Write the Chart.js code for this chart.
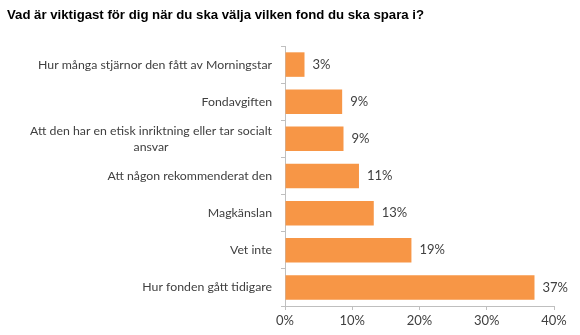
<!DOCTYPE html>
<html>
<head>
<meta charset="utf-8">
<script src="https://cdn.jsdelivr.net/npm/chart.js@4/dist/chart.umd.min.js"></script>
<style>
    html, body { margin: 0; padding: 0; background: #fff; }
    #wrap { position: relative; width: 580px; height: 335px; }
    #title {
        position: absolute; left: 7px; top: 7px;
        font: bold 13.2px "Liberation Sans", Arial, sans-serif;
        color: #000;
    }
    canvas { position: absolute; left: 0; top: 0; }
</style>
</head>
<body>
<div id="wrap">
    <canvas id="chart" width="580" height="335"></canvas>
    <div id="title">Vad är viktigast för dig när du ska välja vilken fond du ska spara i?</div>
</div>
<script>
// Chart data
const categories = [
    'Hur många stjärnor den fått av Morningstar',
    'Fondavgiften',
    ['Att den har en etisk inriktning eller tar socialt', 'ansvar'],
    'Att någon rekommenderat den',
    'Magkänslan',
    'Vet inte',
    'Hur fonden gått tidigare'
];
const values = [2.9, 8.5, 8.7, 11.0, 13.2, 18.8, 37.1];
const valueLabels = ['3%', '9%', '9%', '11%', '13%', '19%', '37%'];
const xTicks = [0, 10, 20, 30, 40];

const fontFamily = 'Lato, "Open Sans", sans-serif';
const textColor = '#404040';

// Draw category labels (centered multi-line block, right edge near axis) and value labels
const labelPlugin = {
    id: 'labelPlugin',
    afterDraw(chart) {
        const ctx = chart.ctx;
        const yScale = chart.scales.y;
        const meta = chart.getDatasetMeta(0);
        ctx.save();
        ctx.font = '12.3px ' + fontFamily;
        ctx.fillStyle = textColor;
        ctx.textBaseline = 'middle';
        ctx.textAlign = 'center';

        categories.forEach((cat, i) => {
            const lines = Array.isArray(cat) ? cat : [cat];
            const y = yScale.getPixelForValue(i);
            const maxW = Math.max(...lines.map(l => ctx.measureText(l).width));
            const center = yScale.right - 13 - maxW / 2;
            const lh = 16;
            lines.forEach((l, j) => {
                ctx.fillText(l, center, y + (j - (lines.length - 1) / 2) * lh);
            });
        });

        ctx.font = '13px ' + fontFamily;
        ctx.textAlign = 'left';
        meta.data.forEach((bar, i) => {
            ctx.fillText(valueLabels[i], bar.x + 8, bar.y);
        });
        ctx.restore();
    }
};

new Chart(document.getElementById('chart'), {
    type: 'bar',
    data: {
        labels: categories,
        datasets: [{
            data: values,
            backgroundColor: '#F79646',
            borderWidth: 0,
            categoryPercentage: 1,
            barPercentage: 0.66
        }]
    },
    options: {
        indexAxis: 'y',
        responsive: false,
        animation: false,
        layout: {
            padding: { top: 46, right: 26, left: 0, bottom: 0 }
        },
        plugins: {
            legend: { display: false },
            title: { display: false },
            tooltip: { enabled: false }
        },
        scales: {
            y: {
                ticks: { display: false },
                grid: {
                    offset: true,
                    drawOnChartArea: false,
                    drawTicks: true,
                    tickLength: 4,
                    color: '#bfbfbf'
                },
                border: { color: '#bfbfbf' },
                afterFit: function(scale) {
                    scale.width = 285;
                }
            },
            x: {
                min: 0,
                max: 40,
                afterBuildTicks: function(scale) {
                    scale.ticks = xTicks.map(v => ({ value: v }));
                },
                ticks: {
                    color: textColor,
                    font: { family: fontFamily, size: 13 },
                    padding: 3,
                    callback: function(v) { return v + '%'; }
                },
                grid: {
                    drawOnChartArea: false,
                    drawTicks: true,
                    tickLength: 4,
                    color: '#bfbfbf'
                },
                border: { color: '#bfbfbf' },
                afterFit: function(scale) {
                    scale.height = 29;
                }
            }
        }
    },
    plugins: [labelPlugin]
});
</script>
</body>
</html>
